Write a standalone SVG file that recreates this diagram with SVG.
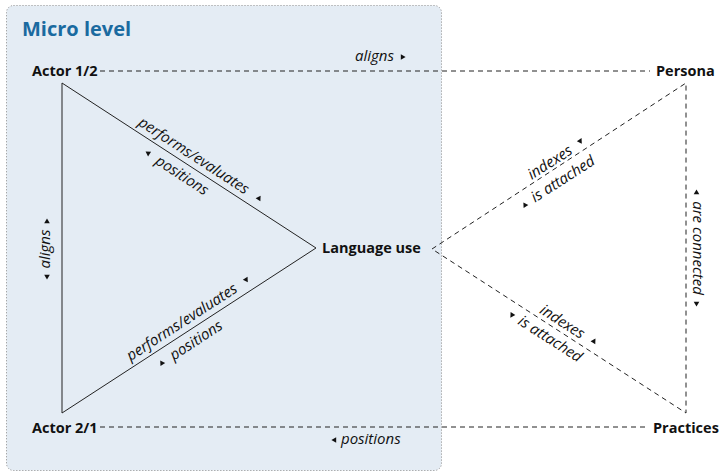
<svg xmlns="http://www.w3.org/2000/svg" width="721" height="474" viewBox="0 0 721 474">
<defs>
<style>
.node{font-family:"Open Sans","Noto Sans","Liberation Sans",sans-serif;font-weight:bold;font-size:14.5px;fill:#111}
.lbl{font-family:"Open Sans","Noto Sans","Liberation Sans",sans-serif;font-style:italic;font-size:15px;fill:#111}
.solid{fill:none;stroke:#222;stroke-width:1}
.dash{fill:none;stroke:#222;stroke-width:1;stroke-dasharray:5 4}
.tri{fill:#111}
</style>
<path id="au" d="M0,-2.6 L2.8,2.2 L-2.8,2.2Z"/>
<path id="ad" d="M0,2.6 L2.8,-2.2 L-2.8,-2.2Z"/>
<path id="al" d="M-2.6,0 L2.2,-2.8 L2.2,2.8Z"/>
<path id="ar" d="M2.6,0 L-2.2,-2.8 L-2.2,2.8Z"/>
</defs>
<g id="panel">
<rect x="6.5" y="5.5" width="435" height="465" rx="7" fill="#e4ecf4" stroke="#8a8a8a" stroke-width="1" stroke-dasharray="1 2"/>
<text x="22" y="35.5" font-family="'Open Sans','Noto Sans','Liberation Sans',sans-serif" font-weight="bold" font-size="20" fill="#1a6aa0">Micro level</text>
</g>
<g id="connectors">
<path class="dash" d="M100,71 H650"/>
<path class="dash" d="M100,427 H648"/>
<path class="solid" d="M62,83 L316,248 L62,413 Z"/>
<path class="dash" d="M432,249 L686,83 L686,413 Z"/>
<!-- top aligns -->
<text class="lbl" x="355" y="61">aligns</text>
<use href="#ar" class="tri" x="403" y="57"/>
<!-- bottom positions -->
<use href="#al" class="tri" x="334" y="440"/>
<text class="lbl" x="341" y="444">positions</text>
<!-- left vertical -->
<g transform="translate(62,248) rotate(-90)">
<text class="lbl" x="-1" y="-12" text-anchor="middle">aligns</text>
<use href="#ar" class="tri" x="27" y="-15"/>
<use href="#al" class="tri" x="-29" y="-15"/>
</g>
<!-- upper left edge -->
<g transform="translate(62,83) rotate(33)">
<text class="lbl" x="150" y="-6" text-anchor="middle">performs/evaluates</text>
<use href="#au" class="tri" x="228" y="-11"/>
<use href="#al" class="tri" x="110" y="12"/>
<text class="lbl" x="151" y="17" text-anchor="middle">positions</text>
</g>
<!-- lower left edge -->
<g transform="translate(62,413) rotate(-33)">
<text class="lbl" x="150" y="-6" text-anchor="middle">performs/evaluates</text>
<use href="#ad" class="tri" x="227" y="-11"/>
<use href="#au" class="tri" x="111" y="12"/>
<text class="lbl" x="152" y="17" text-anchor="middle">positions</text>
</g>
<!-- upper right edge -->
<g transform="translate(432,249) rotate(-32.8)">
<text class="lbl" x="146" y="-4" text-anchor="middle">indexes</text>
<use href="#ad" class="tri" x="183" y="-10"/>
<use href="#au" class="tri" x="102" y="13"/>
<text class="lbl" x="148" y="17" text-anchor="middle">is attached</text>
</g>
<!-- lower right edge -->
<g transform="translate(432,249) rotate(32.6)">
<text class="lbl" x="149" y="-4" text-anchor="middle">indexes</text>
<use href="#au" class="tri" x="186" y="-10"/>
<use href="#ad" class="tri" x="103" y="13"/>
<text class="lbl" x="148" y="17" text-anchor="middle">is attached</text>
</g>
<!-- right vertical -->
<g transform="translate(686,248) rotate(90)">
<text class="lbl" x="0" y="-7" text-anchor="middle">are connected</text>
<use href="#al" class="tri" x="-56" y="-10.5"/>
<use href="#ar" class="tri" x="56" y="-10.5"/>
</g>
</g>
<g id="actor12"><text class="node" x="32" y="76">Actor 1/2</text></g>
<g id="actor21"><text class="node" x="32" y="433">Actor 2/1</text></g>
<g id="language-use"><text class="node" x="322" y="253">Language use</text></g>
<g id="persona"><text class="node" x="656" y="76">Persona</text></g>
<g id="practices"><text class="node" x="653" y="433">Practices</text></g>
</svg>
